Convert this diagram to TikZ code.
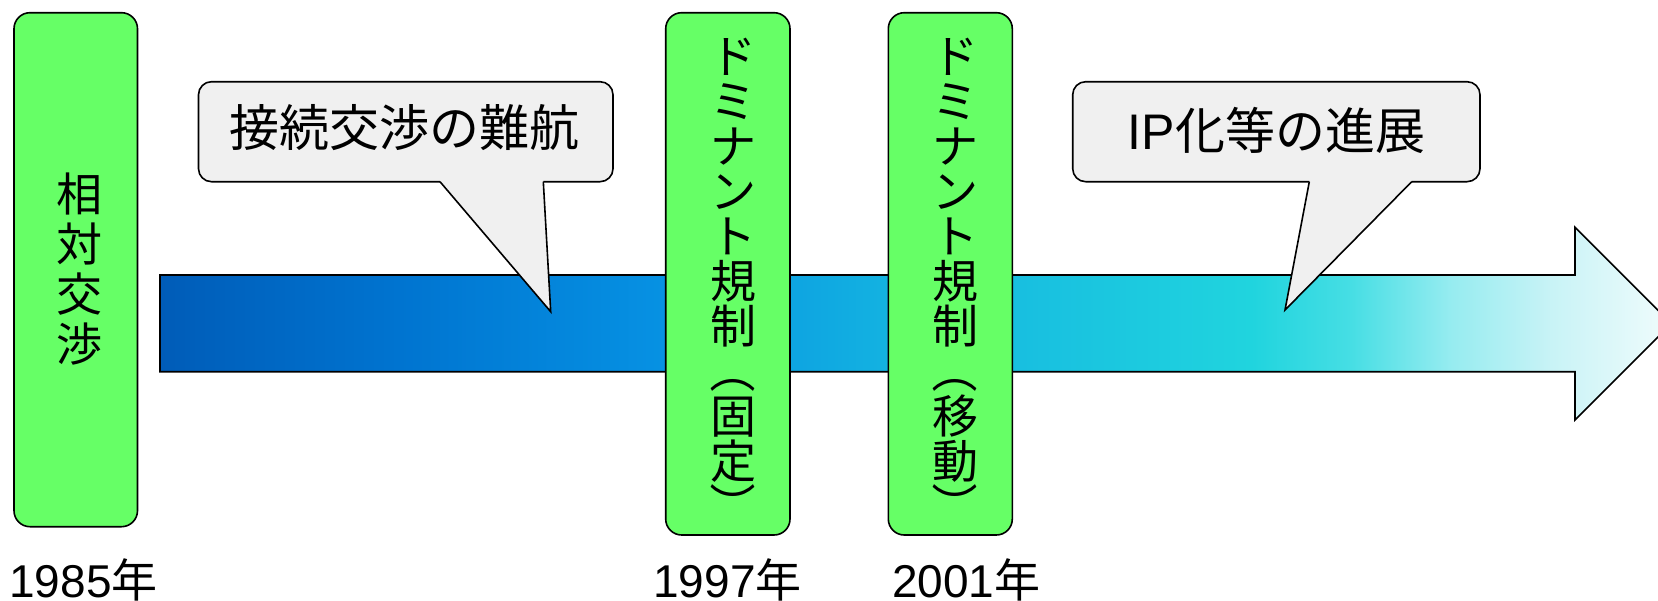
\documentclass[tikz,border=0pt]{standalone}
\usepackage{fontspec}
\setmainfont{Liberation Sans}
\newfontfamily\cjk{Noto Sans CJK JP}
\definecolor{boxgreen}{RGB}{102,255,102}
\definecolor{callfill}{RGB}{240,240,240}
\definecolor{sA}{RGB}{0,92,184}
\definecolor{sB}{RGB}{0,116,208}
\definecolor{sC}{RGB}{6,144,226}
\definecolor{sD}{RGB}{20,180,225}
\definecolor{sE}{RGB}{32,212,222}
\definecolor{sF}{RGB}{70,222,228}
\definecolor{sG}{RGB}{150,236,240}
\definecolor{sH}{RGB}{200,243,246}
\definecolor{sI}{RGB}{240,252,252}
\pgfdeclarehorizontalshading{arrowshade}{100bp}{color(0bp)=(sA); color(25bp)=(sA); color(32.9bp)=(sB); color(41.2bp)=(sC); color(49.5bp)=(sD); color(61.1bp)=(sE); color(64.4bp)=(sF); color(67.7bp)=(sG); color(71bp)=(sH); color(75bp)=(sI); color(100bp)=(sI)}
\begin{document}
\begin{tikzpicture}[x=0.5pt,y=-0.5pt,
  greenbox/.style={draw=black, line width=0.8pt, fill=boxgreen, rounded corners=8pt, inner sep=0pt},
  callbox/.style={draw=black, line width=0.8pt, fill=callfill, rounded corners=6.5pt, inner sep=0pt},
  tailline/.style={draw=black, line width=0.8pt},
  vch/.style={font=\cjk\fontsize{23}{23}\selectfont, anchor=base, inner sep=0pt},
  vpar/.style={font=\cjk\fontsize{23}{23}\selectfont, anchor=center, inner sep=0pt, rotate=-90},
  ctext/.style={font=\fontsize{25}{25}\selectfont, inner sep=0pt},
  year/.style={font=\fontsize{23}{23}\selectfont, anchor=base west, inner sep=0pt}]
\useasboundingbox (0,0) rectangle (1658,600);
\clip (0,0) rectangle (1658,600);
% arrow
\shadedraw[shading=arrowshade, draw=black, line width=0.8pt]
  (160,275) -- (1575,275) -- (1575,227.3) -- (1671.4,323.6) -- (1575,420) -- (1575,371.7) -- (160,371.7) -- cycle;
% green boxes
\node[greenbox, minimum width=61.75pt, minimum height=257pt] (b1) at (75.75,269.7) {};
\node[greenbox, minimum width=62.15pt, minimum height=261.15pt] (b2) at (727.85,273.85) {};
\node[greenbox, minimum width=62pt, minimum height=261.15pt] (b3) at (950.3,273.85) {};
\foreach \c [count=\i] in {相,対,交,渉}
  \node[vch] (b1c\i) at (79,{211.5+50*(\i-1)}) {\c};
% box 2 text
\foreach \c [count=\i] in {ド,ミ,ナ,ン,ト,規,制}
  \node[vch] (b2c\i) at (733,{73.5+45*(\i-1)}) {\c};
\node[vpar] (b2c8) at (733,370.5) {（};
\node[vch] (b2c9) at (733,{73.5+45*8}) {固};
\node[vch] (b2c10) at (733,{73.5+45*9}) {定};
\node[vpar] (b2c11) at (733,505.5) {）};
% box 3 text
\foreach \c [count=\i] in {ド,ミ,ナ,ン,ト,規,制}
  \node[vch] (b3c\i) at (955,{73.5+45*(\i-1)}) {\c};
\node[vpar] (b3c8) at (955,370.5) {（};
\node[vch] (b3c9) at (955,{73.5+45*8}) {移};
\node[vch] (b3c10) at (955,{73.5+45*9}) {動};
\node[vpar] (b3c11) at (955,505.5) {）};
% callout 1
\node[callbox, minimum width=207.25pt, minimum height=50pt] (c1) at (405.75,131.7) {};
\coordinate (c1a) at (440,181.7);
\coordinate (c1tip) at (550.7,311.7);
\coordinate (c1b) at (543.3,181.7);
\fill[callfill] (440,175) -- (c1a) -- (c1tip) -- (c1b) -- (543.3,175) -- cycle;
\draw[tailline] (c1a) -- (c1tip) -- (c1b);
\node[ctext] (c1t) at (404,128) {\cjk 接続交渉の難航};
% callout 2
\node[callbox, minimum width=203.65pt, minimum height=50pt] (c2) at (1276.35,131.7) {};
\coordinate (c2a) at (1309.3,181.7);
\coordinate (c2tip) at (1285,310);
\coordinate (c2b) at (1411.7,181.7);
\fill[callfill] (1309.3,175) -- (c2a) -- (c2tip) -- (c2b) -- (1411.7,175) -- cycle;
\draw[tailline] (c2a) -- (c2tip) -- (c2b);
\node[ctext] (c2t) at (1276.5,130) {IP{\cjk 化等の進展}};
% years
\node[year] (y1) at (9,597) {1985{\cjk 年}};
\node[year] (y2) at (653,597) {1997{\cjk 年}};
\node[year] (y3) at (891.6,597) {2001{\cjk 年}};
\end{tikzpicture}
\end{document}
